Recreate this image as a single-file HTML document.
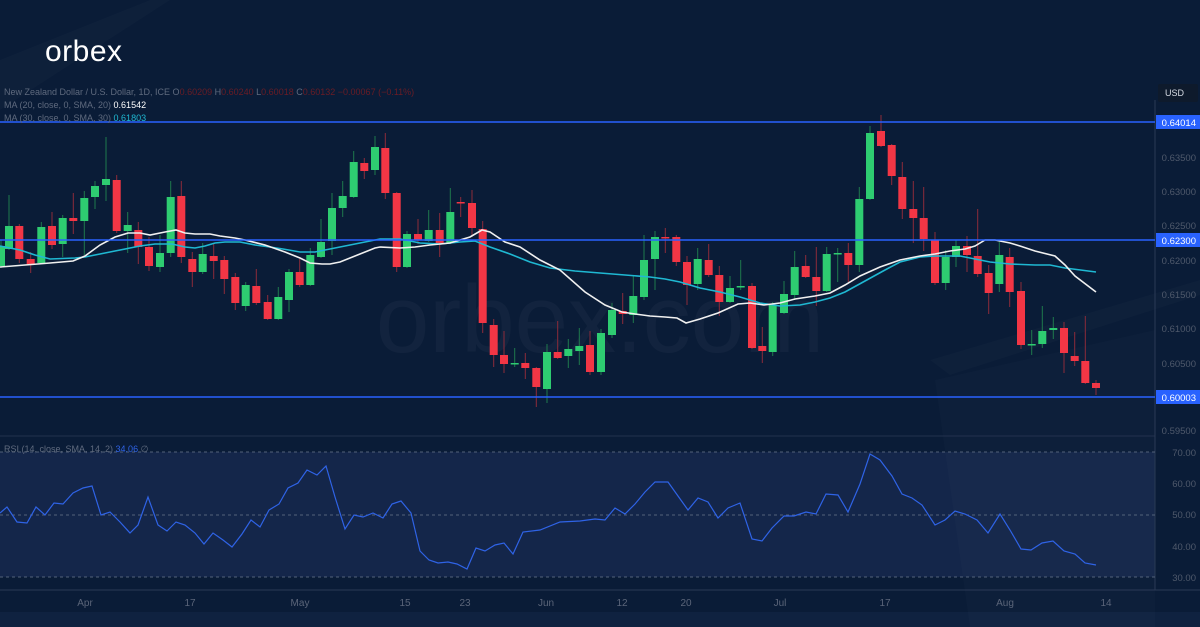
<!DOCTYPE html>
<html><head><meta charset="utf-8"><style>
html,body{margin:0;padding:0;width:1200px;height:627px;overflow:hidden;background:#0b1d37;font-family:"Liberation Sans",sans-serif}
svg{display:block}
</style></head><body>
<svg id="s" width="1200" height="627" viewBox="0 0 1200 627" xmlns="http://www.w3.org/2000/svg">
<rect width="1200" height="627" fill="#0a1c37"/>
<rect x="0" y="452" width="1155" height="125" fill="#14264a"/>
<rect x="0" y="612" width="1200" height="15" fill="#0f2240"/>
<polygon points="930,360 1200,280 1200,295 950,375" fill="#ffffff" opacity="0.02"/>
<polygon points="935,380 1155,330 1155,627 970,627" fill="#ffffff" opacity="0.015"/>
<polygon points="0,60 150,0 170,0 0,110" fill="#ffffff" opacity="0.02"/>
<text x="600" y="352" font-size="96" fill="#ffffff" opacity="0.03" text-anchor="middle" font-family="Liberation Sans">orbex.com</text>
<text x="45" y="61" font-size="30" fill="#ffffff" font-family="Liberation Sans" letter-spacing="0.5">orbex</text>
<line x1="0" y1="436" x2="1155" y2="436" stroke="#22324d" stroke-width="1"/>
<line x1="0" y1="590" x2="1200" y2="590" stroke="#2a3a55" stroke-width="1"/>
<line x1="1155" y1="100" x2="1155" y2="590" stroke="#2a3a55" stroke-width="1"/>
<line x1="0" y1="452" x2="1155" y2="452" stroke="#53627a" stroke-dasharray="3,3"/>
<line x1="0" y1="515" x2="1155" y2="515" stroke="#53627a" stroke-dasharray="3,3"/>
<line x1="0" y1="577" x2="1155" y2="577" stroke="#53627a" stroke-dasharray="3,3"/>
<g id="c"></g>
<polyline fill="none" stroke="#1fb8d2" stroke-width="1.6" points="0,246 20,250 35,255 50,259 75,258 85,257 100,254 115,251 130,248 140,246 155,244 172,244 185,247 195,248 205,246 215,243 225,242 240,242 255,245 270,247 283,249 300,252 315,252 325,250 345,246 360,243 380,239 400,239 420,243 440,244 460,242 475,241 490,247 510,254 530,262 550,268 575,271 600,273 625,275 650,277 665,279 680,282 700,288 720,292 740,297 760,303 780,306 800,305 815,302 830,298 845,292 865,281 885,270 900,262 920,257 935,256 960,256 990,262 1010,264 1035,265 1050,265 1065,268 1096,272"/>
<polyline fill="none" stroke="#f0f0f0" stroke-width="1.6" points="0,267 50,263 73,261 85,256 100,245 115,237 128,233 140,233 150,235 165,232 176,230 185,233 195,234 210,234 220,236 235,238 245,240 265,245 285,252 300,258 310,263 322,264 330,264 340,262 360,254 375,248 380,247 400,248 415,247 430,245 450,243 470,237 482,230 490,232 505,242 520,247 540,260 560,270 585,292 605,305 622,312 635,314 650,316 665,317 677,318 686,323 700,319 718,313 738,304 750,303 764,305 780,303 795,299 815,296 830,293 845,285 860,276 880,267 900,260 920,256 935,254 950,251 965,249 975,246 985,240 995,240 1010,243 1020,246 1035,251 1055,256 1065,265 1075,276 1096,292"/>
<line x1="0" y1="122" x2="1155" y2="122" stroke="#2962ff" stroke-width="1.5"/>
<line x1="0" y1="240" x2="1155" y2="240" stroke="#2962ff" stroke-width="1.5"/>
<line x1="0" y1="397" x2="1155" y2="397" stroke="#2962ff" stroke-width="1.5"/>
<polyline fill="none" stroke="#2f63e6" stroke-width="1.2" points="0,513 7,507 17,522 27,523 36,507 45,515 54,503 63,504 73,493 83,488 92,486 101,515 110,512 120,522 130,533 138,525 148,497 158,525 167,531 176,522 185,525 195,533 204,544 213,533 223,540 232,547 242,534 251,520 260,527 269,510 279,504 288,488 298,483 307,470 317,475 326,466 335,497 345,529 354,515 363,517 373,513 383,518 392,504 401,501 411,513 420,551 429,560 438,563 448,562 457,564 467,569 476,548 485,551 495,545 504,543 513,554 523,532 540,530 560,522 580,521 595,519 605,520 615,508 625,514 635,504 645,492 655,482 668,482 678,496 688,510 698,498 708,502 718,518 728,508 740,503 752,539 762,541 772,528 784,516 794,516 806,512 816,514 826,494 838,495 848,512 860,484 870,454 880,460 892,476 902,494 912,498 922,505 935,525 945,520 955,511 965,514 977,520 988,533 1000,514 1010,530 1021,549 1031,550 1042,543 1053,541 1064,551 1075,554 1085,563 1096,565"/>
<g font-size="9" fill="#5f6a7e">
<text x="4" y="95">New Zealand Dollar / U.S. Dollar, 1D, ICE  O<tspan fill="#6a1c25">0.60209</tspan>  H<tspan fill="#6a1c25">0.60240</tspan>  L<tspan fill="#6a1c25">0.60018</tspan>  C<tspan fill="#6a1c25">0.60132</tspan>  <tspan fill="#6a1c25">−0.00067 (−0.11%)</tspan></text>
<text x="4" y="108">MA (20, close, 0, SMA, 20)  <tspan fill="#ffffff">0.61542</tspan></text>
<text x="4" y="121">MA (30, close, 0, SMA, 30)  <tspan fill="#1fb8d2">0.61803</tspan></text>
<text x="4" y="452">RSI (14, close, SMA, 14, 2)  <tspan fill="#2f63e6">34.06</tspan>  ∅</text>
</g>
<rect x="1158" y="84" width="40" height="18" rx="2" fill="#0e1a2c"/>
<text x="1165" y="96" font-size="9" fill="#d6dbe4">USD</text>
<g font-size="9.5" fill="#4f596b" text-anchor="end">
<text x="1196" y="161">0.63500</text><text x="1196" y="195">0.63000</text><text x="1196" y="229">0.62500</text>
<text x="1196" y="264">0.62000</text><text x="1196" y="298">0.61500</text><text x="1196" y="332">0.61000</text>
<text x="1196" y="367">0.60500</text><text x="1196" y="434">0.59500</text>
<text x="1196" y="456">70.00</text><text x="1196" y="487">60.00</text><text x="1196" y="518">50.00</text>
<text x="1196" y="550">40.00</text><text x="1196" y="581">30.00</text>
</g>
<g font-size="9.5" fill="#fff" text-anchor="end">
<rect x="1156" y="115" width="44" height="14" fill="#2962ff"/><text x="1196" y="126">0.64014</text>
<rect x="1156" y="233" width="44" height="14" fill="#2962ff"/><text x="1196" y="244">0.62300</text>
<rect x="1156" y="390" width="44" height="14" fill="#2962ff"/><text x="1196" y="401">0.60003</text>
</g>
<g font-size="10" fill="#5b6579" text-anchor="middle">
<text x="85" y="606">Apr</text><text x="190" y="606">17</text><text x="300" y="606">May</text><text x="405" y="606">15</text>
<text x="465" y="606">23</text><text x="546" y="606">Jun</text><text x="622" y="606">12</text><text x="686" y="606">20</text>
<text x="780" y="606">Jul</text><text x="885" y="606">17</text><text x="1005" y="606">Aug</text><text x="1106" y="606">14</text>
</g>
</svg>
<script>
var d=[[1,246,266,240,268,1],[9,226,249,195,250,1],[19.3,226,259,224,263,0],[30.7,259,264,252,273,0],[41.3,227,263,222,264,1],[52,226,245,212,249,0],[62.7,218,244,215,257,1],[73.3,218,221,193,234,0],[84.3,198,221,191,255,1],[95,186,197,181,209,1],[106,179,185,137,201,1],[116.7,180,231,175,233,0],[127.7,225,231,212,253,1],[138.3,230,247,222,264,0],[149,247,266,237,271,0],[160,253,267,235,272,1],[170.7,197,253,181,257,1],[181.3,196,257,181,263,0],[192.3,259,272,252,287,0],[202.7,254,272,243,274,1],[213.7,256,261,243,279,0],[224.3,260,279,256,294,0],[235.3,277,303,273,310,0],[245.7,285,306,282,311,1],[256.3,286,303,269,305,0],[267.7,302,319,295,320,0],[278.3,297,319,287,320,1],[289,272,300,269,312,1],[299.7,272,285,259,287,0],[310.3,255,285,248,286,1],[321,242,257,219,258,1],[332,208,241,193,255,1],[342.7,196,208,181,217,1],[353.7,162,197,151,198,1],[364.3,163,171,158,179,0],[375,147,170,136,175,1],[385.3,148,193,133,199,0],[396.7,193,267,192,272,0],[407,234,267,231,268,1],[418,234,240,219,244,0],[428.7,230,241,210,242,1],[439.7,230,243,213,257,0],[450.3,212,243,188,244,1],[460.7,202,203,197,217,0],[472,203,228,190,237,0],[482.7,229,323,221,333,0],[493.7,325,355,319,367,0],[504,355,364,331,373,0],[514.7,363,364,348,367,1],[525.3,363,368,353,379,0],[536.3,368,387,367,407,0],[547,352,389,344,403,1],[557.7,352,358,321,359,0],[568.3,349,356,339,368,1],[579.3,346,351,328,365,1],[590,345,372,331,375,0],[601,333,372,329,375,1],[612,310,335,303,338,1],[622.7,311,314,293,324,0],[633.3,296,315,276,323,1],[644,260,297,235,300,1],[655,237,259,231,290,1],[665.3,237,238,228,253,0],[676.3,237,262,235,266,0],[687,262,285,256,305,0],[697.7,259,284,248,290,1],[708.7,260,275,244,277,0],[719.3,275,302,266,316,0],[730,288,302,276,303,1],[740.7,286,287,260,290,1],[752,286,348,283,349,0],[762.3,346,351,327,363,0],[772.7,305,352,302,356,1],[784,294,313,281,314,1],[794.7,267,295,251,300,1],[805.7,266,277,255,278,0],[816.3,277,291,247,306,0],[826.7,254,291,247,292,1],[837.7,253,254,248,282,1],[848.3,253,265,243,282,0],[859.3,199,265,187,272,1],[870,133,199,126,200,1],[881,131,146,115,147,0],[891.7,145,176,144,185,0],[902.3,177,209,162,219,0],[913.3,209,218,181,243,0],[923.7,218,239,187,251,0],[935,240,283,232,285,0],[945.7,257,283,250,290,1],[956,246,257,240,267,1],[967,246,255,236,272,0],[977.7,256,274,209,277,0],[988.7,273,293,265,314,0],[999.3,255,284,242,292,1],[1009.7,257,292,248,307,0],[1021,291,345,282,349,0],[1031.7,344,345,330,355,1],[1042.3,331,344,306,348,1],[1053.3,328,330,317,339,1],[1064,328,353,322,373,0],[1074.7,356,361,332,366,0],[1085.3,361,383,316,384,0],[1096,383,388,380,395,0]];
var h='';d.forEach(function(a){var col=a[5]?'#2ecc71':'#f23645',wc=a[5]?'#1f7a4c':'#8c2b3a';var x=a[0],t=a[1],b=a[2];if(b-t<1.5)b=t+1.5;
h+='<line x1="'+x+'" y1="'+a[3]+'" x2="'+x+'" y2="'+a[4]+'" stroke="'+wc+'" stroke-width="1"/>';
h+='<rect x="'+(x-4)+'" y="'+t+'" width="8" height="'+(b-t)+'" fill="'+col+'"/>';});
document.getElementById('c').innerHTML=h;
</script>
</body></html>
